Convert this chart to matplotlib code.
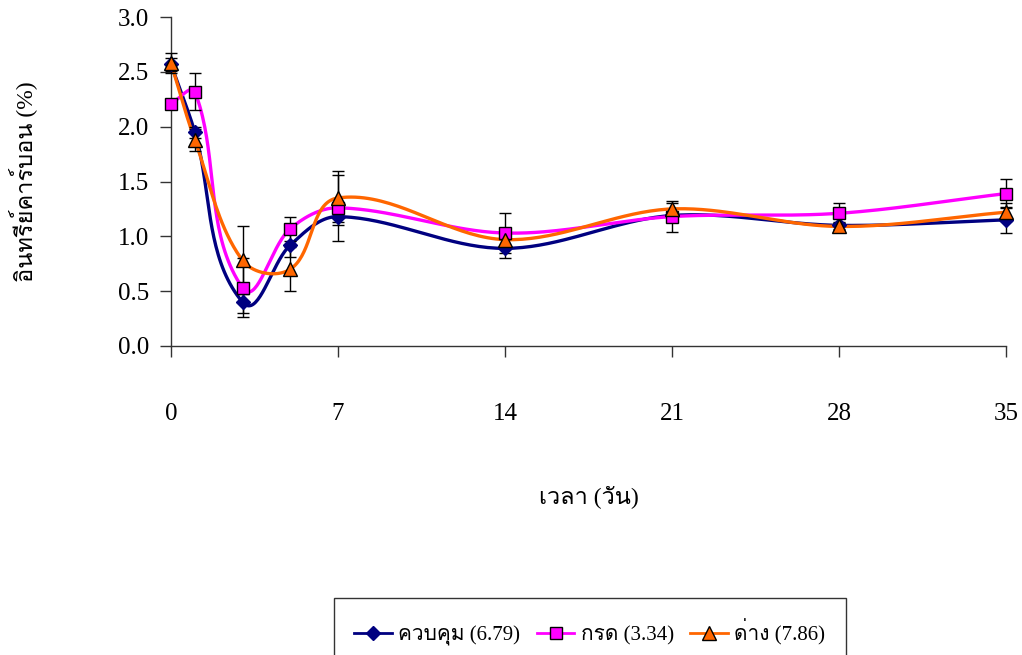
import numpy as np
import matplotlib
matplotlib.use('Agg')
import matplotlib.pyplot as plt
from matplotlib import font_manager
from matplotlib.ft2font import FT2Font

# organic carbon (%) over time, three treatments
days = [0, 1, 3, 5, 7, 14, 21, 28, 35]
xticks = [0, 7, 14, 21, 28, 35]

control = [2.57, 1.95, 0.40, 0.92, 1.18, 0.89, 1.19, 1.10, 1.15]
control_err = [0.06, 0.05, 0.10, 0.11, 0.05, 0.09, 0.03, 0.03, 0.12]
acid = [2.21, 2.32, 0.53, 1.07, 1.26, 1.03, 1.18, 1.21, 1.39]
acid_err = [0.02, 0.165, 0.27, 0.11, 0.30, 0.18, 0.14, 0.09, 0.13]
base = [2.58, 1.88, 0.78, 0.70, 1.35, 0.97, 1.25, 1.09, 1.22]
base_err = [0.09, 0.10, 0.31, 0.20, 0.25, 0.05, 0.05, 0.03, 0.08]

labels = ['ควบคุม (6.79)', 'กรด (3.34)', 'ด่าง (7.86)']


def thai_font():
    for f in font_manager.fontManager.ttflist:
        try:
            if FT2Font(f.fname).get_char_index(0x0E01):
                return f.name
        except Exception:
            pass
    return 'DejaVu Sans'


fams = ['Liberation Serif', thai_font(), 'DejaVu Sans']
plt.rcParams['font.family'] = fams

fig = plt.figure(figsize=(10.22, 6.55), dpi=100)
ax = fig.add_axes([0.1673, 0.4718, 0.817, 0.5022])

# pixel scale of the axes, used so the spline is smooth on screen
sx, sy = 23.86, 109.7


def smooth(x, y, n=40):
    p = np.column_stack([np.array(x) * sx, np.array(y) * sy])
    p = np.vstack([p[0], p, p[-1]])
    out = []
    t = np.linspace(0, 1, n)[:, None]
    for i in range(1, len(p) - 2):
        p0, p1, p2, p3 = p[i - 1], p[i], p[i + 1], p[i + 2]
        seg_len = np.hypot(*(p2 - p1))
        d1 = p2 - p0
        d2 = p3 - p1
        d1 = d1 / (np.hypot(*d1) or 1)
        d2 = d2 / (np.hypot(*d2) or 1)
        c1 = p1 + d1 * seg_len / 3
        c2 = p2 - d2 * seg_len / 3
        seg = ((1 - t) ** 3) * p1 + 3 * ((1 - t) ** 2) * t * c1 + 3 * (1 - t) * t ** 2 * c2 + t ** 3 * p2
        out.append(seg)
    out = np.vstack(out)
    return out[:, 0] / sx, out[:, 1] / sy


series = [
    (control, control_err, '#000080', 'D', '#000080', 7.5),
    (acid, acid_err, '#FF00FF', 's', 'black', 8.5),
    (base, base_err, '#FF6600', '^', 'black', 10),
]

handles = []
for (vals, err, col, mk, ec, ms), lab in zip(series, labels):
    xs, ys = smooth(days, vals)
    ax.plot(xs, ys, color=col, lw=2.4, clip_on=False, zorder=2)
    ax.errorbar(days, vals, yerr=err, fmt='none', ecolor='black', elinewidth=1,
                capsize=4.3, capthick=1, clip_on=False, zorder=3)
    ax.plot(days, vals, linestyle='none', marker=mk, ms=ms, mfc=col, mec=ec,
            mew=1, clip_on=False, zorder=4)
    h, = ax.plot([], [], color=col, lw=2, marker=mk, ms=ms, mfc=col, mec=ec, mew=1)
    handles.append(h)

ax.set_xlim(0, 35)
ax.set_ylim(0, 3)
ax.set_xticks(xticks)
ax.set_yticks(np.arange(0, 3.01, 0.5))
ax.set_yticklabels(['%.1f' % v for v in np.arange(0, 3.01, 0.5)])
ax.spines['top'].set_visible(False)
ax.spines['right'].set_visible(False)
for s in ('left', 'bottom'):
    ax.spines[s].set_color('#333333')
    ax.spines[s].set_linewidth(1)
ax.tick_params(axis='both', direction='out', length=8, width=1, color='#333333',
               labelsize=18)
ax.tick_params(axis='x', pad=33)
ax.tick_params(axis='y', pad=8)

ax.set_xlabel('เวลา (วัน)', fontsize=17, labelpad=43)
ax.set_ylabel('อินทรีย์คาร์บอน (%)', fontsize=17, labelpad=58)

leg = fig.legend(handles, labels, loc='upper center', bbox_to_anchor=(0.577, 0.087),
                 ncol=3, fontsize=15, frameon=True, fancybox=False, handlelength=1.8,
                 columnspacing=0.8, handletextpad=0.3, borderpad=1.0, borderaxespad=0)
leg.get_frame().set_edgecolor('black')
leg.get_frame().set_linewidth(1)

fig.savefig('out.png', dpi=100)
